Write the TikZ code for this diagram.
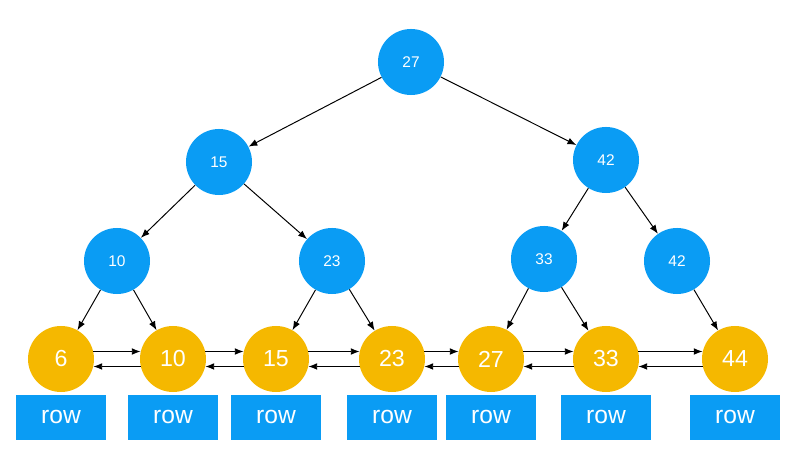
\documentclass[tikz,border=0pt]{standalone}
\usepackage{fontspec}
\setmainfont{Liberation Sans}
\usetikzlibrary{positioning, arrows.meta}
\definecolor{treeblue}{HTML}{0A9CF4}
\definecolor{leafgold}{HTML}{F5B800}

\begin{document}
\begin{tikzpicture}[x=0.025cm, y=-0.025cm,
    treenode/.style={circle, fill=treeblue, minimum size=1.65cm, inner sep=0pt, text=white, font=\fontsize{11}{13}\selectfont},
    leafnode/.style={circle, fill=leafgold, minimum size=1.65cm, inner sep=0pt, text=white, font=\fontsize{16.5}{19}\selectfont},
    rowbox/.style={rectangle, fill=treeblue, minimum width=2.25cm, minimum height=1.125cm, inner sep=0pt, text=white, font=\fontsize{17.5}{20}\selectfont},
    arrow/.style={-{Latex[length=2.2mm, width=1.7mm]}, line width=0.7pt}]

  \useasboundingbox (0,0) rectangle (798,451);

  % index levels
  \node[treenode] (root) at (411,62) {27};
  \node[treenode] (a1) at (219,162) {15};
  \node[treenode] (a2) at (606,160) {42};
  \node[treenode] (b1) at (117,261) {10};
  \node[treenode] (b2) at (332,261) {23};
  \node[treenode] (b3) at (544,259) {33};
  \node[treenode] (b4) at (677,261) {42};

  % leaf level
  \node[leafnode] (l1) at (61,359) {6};
  \node[leafnode] (l2) at (173,359) {10};
  \node[leafnode] (l3) at (276,359) {15};
  \node[leafnode] (l4) at (392,359) {23};
  \node[leafnode] (l5) at (491,359) {27};
  \node[leafnode] (l6) at (606,359) {33};
  \node[leafnode] (l7) at (735,359) {44};

  % data rows
  \foreach \n in {1,...,7}
    \node[rowbox, below=1.5pt of l\n] (w\n) {row};

  \draw[arrow] (root) -- (a1);
  \draw[arrow] (root) -- (a2);
  \draw[arrow] (a1) -- (b1);
  \draw[arrow] (a1) -- (b2);
  \draw[arrow] (a2) -- (b3);
  \draw[arrow] (a2) -- (b4);
  \draw[arrow] (b1) -- (l1);
  \draw[arrow] (b1) -- (l2);
  \draw[arrow] (b2) -- (l3);
  \draw[arrow] (b2) -- (l4);
  \draw[arrow] (b3) -- (l5);
  \draw[arrow] (b3) -- (l6);
  \draw[arrow] (b4) -- (l7);

  % linked list between leaves
  \foreach \a/\b in {l1/l2, l2/l3, l3/l4, l4/l5, l5/l6, l6/l7} {
    \draw[arrow] (\a.13) -- (\b.167);
    \draw[arrow] (\b.193) -- (\a.-13);
  }
\end{tikzpicture}
\end{document}
